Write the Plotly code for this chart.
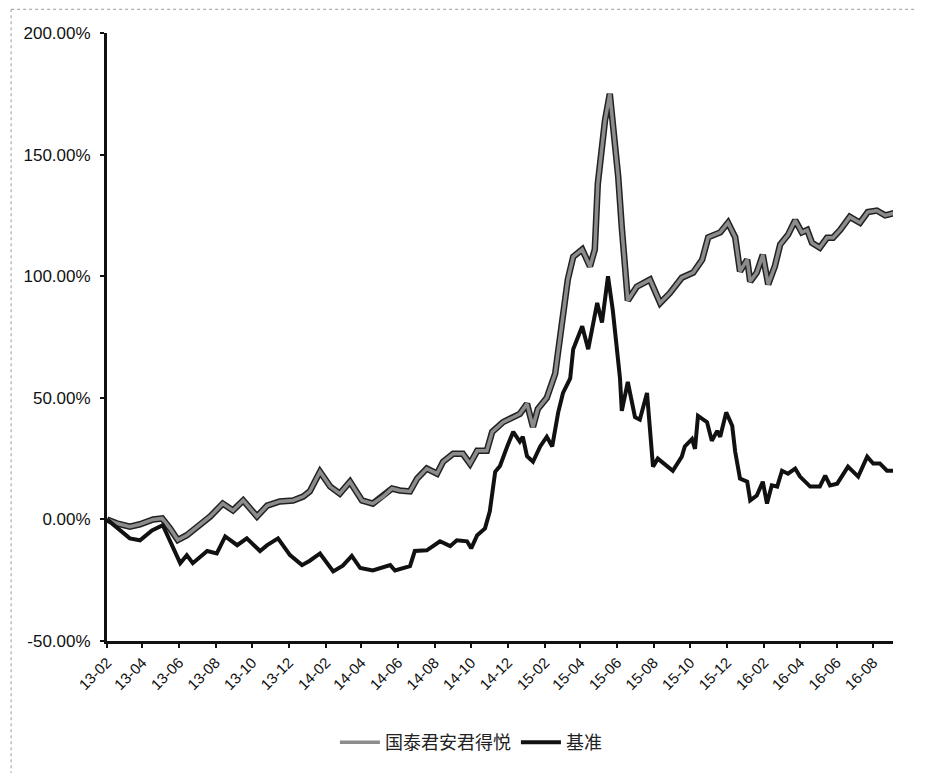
import plotly.graph_objects as go

fund_dates = [
    "2013-02-01", "2013-02-17", "2013-03-11", "2013-03-28", "2013-04-19", "2013-05-04",
    "2013-05-17", "2013-05-30", "2013-06-14", "2013-07-06", "2013-07-23", "2013-08-13",
    "2013-08-30", "2013-09-16", "2013-10-09", "2013-10-26", "2013-11-16", "2013-12-08",
    "2013-12-25", "2014-01-05", "2014-01-22", "2014-02-08", "2014-02-24", "2014-03-13",
    "2014-04-02", "2014-04-20", "2014-05-07", "2014-05-22", "2014-06-04", "2014-06-21",
    "2014-07-03", "2014-07-19", "2014-08-05", "2014-08-15", "2014-09-01", "2014-09-17",
    "2014-09-29", "2014-10-11", "2014-10-27", "2014-11-05", "2014-11-23", "2014-12-10",
    "2014-12-21", "2015-01-02", "2015-01-12", "2015-01-20", "2015-02-04", "2015-02-18",
    "2015-03-03", "2015-03-11", "2015-03-20", "2015-04-04", "2015-04-17", "2015-04-25",
    "2015-04-30", "2015-05-12", "2015-05-20", "2015-05-25", "2015-06-03", "2015-06-09",
    "2015-06-19", "2015-07-04", "2015-07-26", "2015-08-12", "2015-08-28", "2015-09-17",
    "2015-10-06", "2015-10-21", "2015-10-31", "2015-11-20", "2015-12-03", "2015-12-15",
    "2015-12-23", "2016-01-04", "2016-01-09", "2016-01-20", "2016-01-30", "2016-02-08",
    "2016-02-19", "2016-02-28", "2016-03-12", "2016-03-24", "2016-04-04", "2016-04-13",
    "2016-04-21", "2016-05-04", "2016-05-16", "2016-05-26", "2016-06-07", "2016-06-23",
    "2016-07-10", "2016-07-23", "2016-08-07", "2016-08-21", "2016-09-06",
]
fund_values = [
    0.0, -1.6, -3.0, -2.0, 0.0, 0.4,
    -3.7, -8.5, -6.5, -2.4, 1.2, 6.5,
    3.7, 7.8, 1.2, 5.7, 7.4, 7.8,
    9.4, 11.5, 19.6, 13.5, 10.6, 15.5,
    7.8, 6.5, 9.4, 12.7, 11.9, 11.5,
    16.8, 20.9, 18.8, 23.7, 27.0, 27.0,
    22.9, 28.2, 28.2, 36.0, 40.0, 42.0,
    43.4, 47.5, 38.0, 45.4, 50.0, 60.0,
    85.0, 98.6, 108.0, 111.0, 104.0, 111.0,
    138.0, 164.0, 175.0, 163.0, 141.0, 120.0,
    90.0, 95.7, 98.6, 89.0, 93.0, 99.4,
    101.5, 106.8, 116.0, 118.0, 122.0, 116.0,
    102.0, 106.8, 97.8, 101.5, 108.8, 96.6,
    104.0, 113.0, 117.0, 123.0, 118.0, 119.0,
    113.7, 111.7, 115.8, 115.8, 119.0, 124.4,
    122.0, 126.4, 127.0, 125.0, 126.0,
]

bench_dates = [
    "2013-02-01", "2013-02-18", "2013-03-11", "2013-03-28", "2013-04-17", "2013-05-05",
    "2013-05-20", "2013-06-03", "2013-06-14", "2013-06-24", "2013-07-18", "2013-08-03",
    "2013-08-17", "2013-09-06", "2013-09-22", "2013-10-14", "2013-10-26", "2013-11-13",
    "2013-12-03", "2013-12-23", "2014-01-05", "2014-01-22", "2014-02-13", "2014-03-01",
    "2014-03-16", "2014-03-30", "2014-04-20", "2014-05-19", "2014-05-27", "2014-06-21",
    "2014-06-29", "2014-07-19", "2014-08-10", "2014-08-27", "2014-09-07", "2014-09-24",
    "2014-10-01", "2014-10-11", "2014-10-24", "2014-11-01", "2014-11-10", "2014-11-18",
    "2014-11-30", "2014-12-10", "2014-12-21", "2014-12-26", "2015-01-02", "2015-01-12",
    "2015-01-24", "2015-02-04", "2015-02-13", "2015-02-23", "2015-03-03", "2015-03-15",
    "2015-03-20", "2015-04-04", "2015-04-14", "2015-04-29", "2015-05-07", "2015-05-17",
    "2015-05-25", "2015-06-06", "2015-06-09", "2015-06-19", "2015-07-01", "2015-07-09",
    "2015-07-21", "2015-07-26", "2015-07-31", "2015-08-08", "2015-08-23", "2015-09-02",
    "2015-09-17", "2015-09-22", "2015-10-04", "2015-10-09", "2015-10-14", "2015-10-29",
    "2015-11-06", "2015-11-15", "2015-11-20", "2015-11-30", "2015-12-10", "2015-12-15",
    "2015-12-23", "2016-01-04", "2016-01-09", "2016-01-20", "2016-01-30", "2016-02-06",
    "2016-02-14", "2016-02-23", "2016-03-02", "2016-03-12", "2016-03-24", "2016-04-01",
    "2016-04-18", "2016-05-04", "2016-05-13", "2016-05-21", "2016-06-02", "2016-06-20",
    "2016-07-07", "2016-07-22", "2016-08-01", "2016-08-12", "2016-08-24", "2016-09-06",
]
bench_values = [
    0.0, -3.7, -7.8, -8.6, -4.5, -2.4,
    -10.6, -18.0, -14.7, -18.0, -13.0, -14.0,
    -7.0, -10.6, -7.8, -13.0, -10.6, -7.8,
    -14.7, -18.8, -17.0, -14.0, -21.4, -19.0,
    -15.0, -20.0, -21.0, -18.8, -21.0, -19.2,
    -13.0, -12.7, -9.0, -11.0, -8.6, -9.0,
    -11.9, -6.5, -3.7, 3.3, 19.6, 22.0,
    30.0, 36.0, 32.0, 34.0, 26.0, 23.7,
    30.0, 34.0, 30.0, 44.0, 52.0, 58.0,
    70.0, 79.4, 70.0, 89.0, 81.0, 100.0,
    86.0, 58.0, 44.6, 56.5, 42.0, 41.0,
    52.0, 37.0, 21.7, 25.0, 22.0, 20.0,
    25.8, 30.0, 33.0, 29.0, 42.6, 40.0,
    32.3, 36.4, 34.0, 44.0, 38.5, 27.8,
    16.8, 15.5, 7.8, 9.8, 15.5, 6.5,
    14.0, 13.5, 20.0, 18.8, 20.9, 17.6,
    13.5, 13.5, 18.0, 14.0, 14.7, 21.7,
    17.6, 25.8, 23.0, 23.0, 20.0, 20.0,
]

fund_name = "国泰君安君得悦"
bench_name = "基准"
y_ticks = [-50, 0, 50, 100, 150, 200]
y_labels = ["-50.00%", "0.00%", "50.00%", "100.00%", "150.00%", "200.00%"]

fig = go.Figure()
# dark outline under the grey fund line
fig.add_trace(go.Scatter(x=fund_dates, y=fund_values, mode="lines",
                         line=dict(color="#222222", width=6.5),
                         showlegend=False, hoverinfo="skip", legendgroup="f"))
fig.add_trace(go.Scatter(x=fund_dates, y=fund_values, mode="lines", name=fund_name,
                         line=dict(color="#8c8c8c", width=3.5), legendgroup="f"))
fig.add_trace(go.Scatter(x=bench_dates, y=bench_values, mode="lines", name=bench_name,
                         line=dict(color="#111111", width=4)))

font_fam = "Liberation Sans, Arial, Noto Sans CJK SC, sans-serif"

fig.update_layout(
    width=917, height=765,
    margin=dict(l=99, r=32, t=25, b=130),
    paper_bgcolor="white", plot_bgcolor="white",
    font=dict(family=font_fam, size=15, color="#111111"),
    showlegend=True,
    legend=dict(orientation="h", x=0.463, y=-0.167, xanchor="center", yanchor="middle",
                font=dict(family="Noto Sans CJK SC, Liberation Sans, sans-serif", size=18, color="#222222"),
                itemwidth=40, bgcolor="rgba(0,0,0,0)"),
    xaxis=dict(
        type="date", range=["2013-02-01", "2016-09-03"], automargin=False,
        tick0="2013-02-01", dtick="M2", tickformat="%y-%m", tickangle=-45,
        showgrid=False, zeroline=False, showline=True, linecolor="#111111", linewidth=3,
        ticks="outside", ticklen=4, tickwidth=2, tickcolor="#111111",
        tickfont=dict(size=15, color="#111111"),
    ),
    yaxis=dict(
        range=[-50, 200], tickvals=y_ticks, ticktext=y_labels, automargin=False,
        showgrid=False, zeroline=False, showline=True, linecolor="#111111", linewidth=3,
        ticks="outside", ticklen=4, tickwidth=2, tickcolor="#111111",
        ticklabelstandoff=6,
        tickfont=dict(size=17, color="#111111"),
    ),
    shapes=[
        dict(type="line", xref="paper", yref="paper", x0=-0.122, x1=1.1, y0=1.039, y1=1.039,
             line=dict(color="#9a9a9a", width=1, dash="dot")),
        dict(type="line", xref="paper", yref="paper", x0=-0.122, x1=-0.122, y0=1.039, y1=-0.22,
             line=dict(color="#9a9a9a", width=1, dash="dot")),
    ],
)

fig.write_html("out.html")
